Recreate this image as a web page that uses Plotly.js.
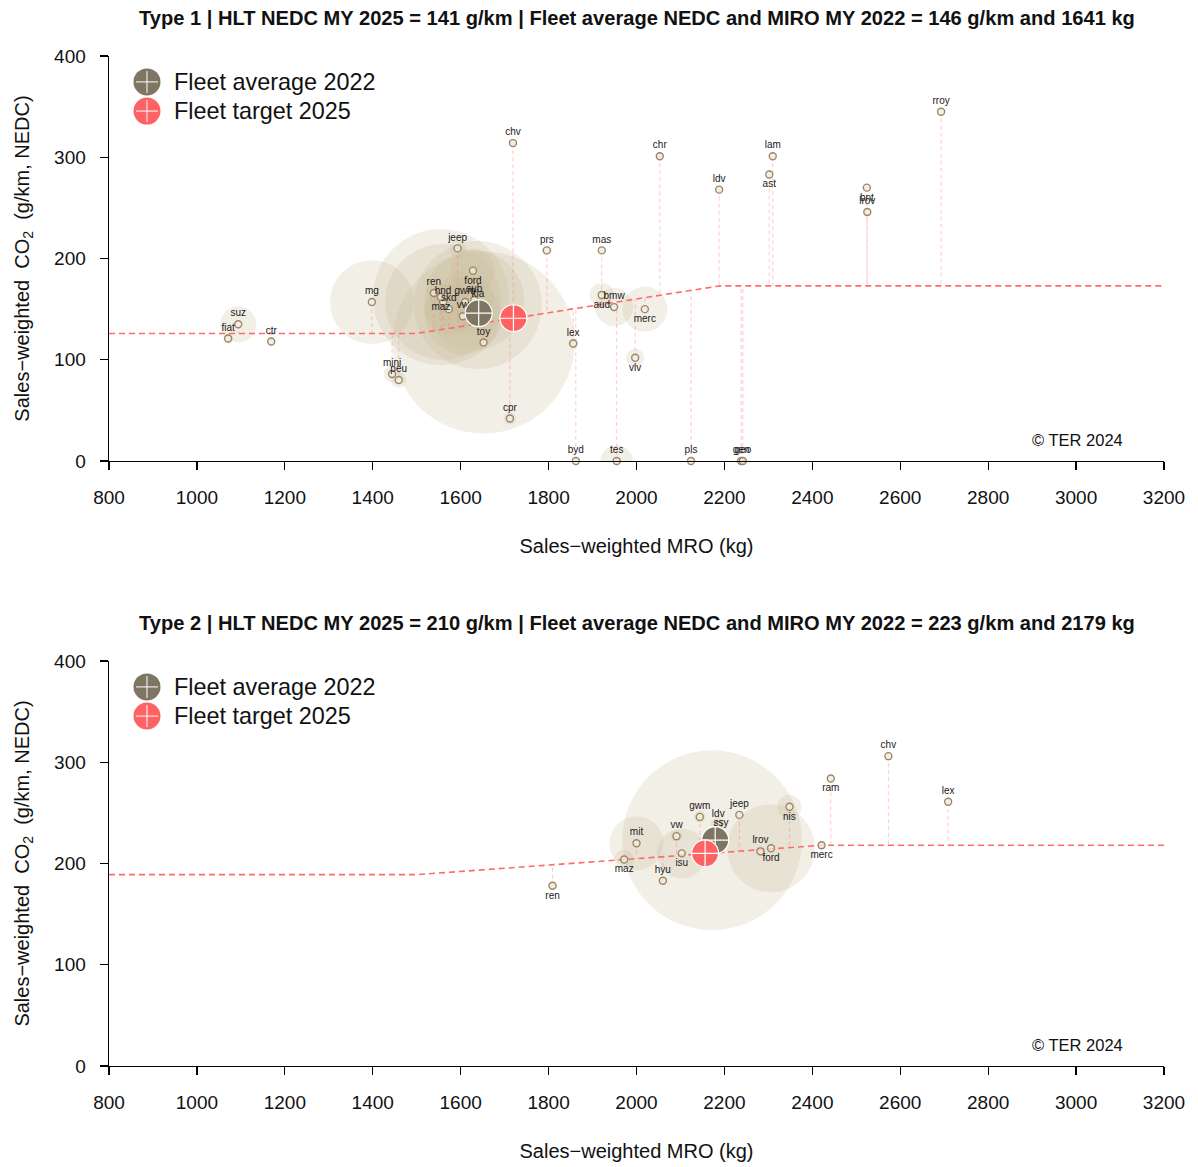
<!DOCTYPE html>
<html>
<head>
<meta charset="utf-8">
<script src="https://cdn.plot.ly/plotly-3.0.1.min.js"></script>
<style>html,body{margin:0;padding:0;background:#fff;}</style>
</head>
<body>
<div id="chart" style="width:1198px;height:1167px;"></div>
<script>
// ---------- DATA ----------
const xTicks = [800, 1000, 1200, 1400, 1600, 1800, 2000, 2200, 2400, 2600, 2800, 3000, 3200];
const yTicks = [0, 100, 200, 300, 400];

const title1 = 'Type 1 | HLT NEDC MY 2025 = 141 g/km | Fleet average NEDC and MIRO MY 2022 = 146 g/km and 1641 kg';
const title2 = 'Type 2 | HLT NEDC MY 2025 = 210 g/km | Fleet average NEDC and MIRO MY 2022 = 223 g/km and 2179 kg';

// Type 1 brands
const brands1 = ['fiat','suz','ctr','mg','mini','peu','ren','hnd','maz','skd','gwm','sub','kia','vw','ford','jeep','toy','cpr','chv','prs','lex','byd','tes','pls','gen','geo','mas','aud','bmw','merc','vlv','chr','ldv','lam','ast','bnt','lrov','rroy'];
const mro1 =    [1071,1094,1169,1398,1444,1459,1539,1560,1555,1573,1610,1631,1639,1605,1628,1593,1652,1712,1719,1796,1856,1862,1955,2124,2238,2242,1921,1921,1949,2019,1997,2053,2188,2310,2302,2524,2525,2693];
const co2_1 =   [121, 135, 118, 157, 86,  80,  166, 157, 162, 150, 157, 159, 154, 143, 188, 210, 117, 42,  314, 208, 116, 0,   0,   0,   0,   0,   208, 164, 152, 150, 102, 301, 268, 301, 283, 270, 246, 345];
const sales1 =  [0.5, 6.7, 0.2, 36,  1.5, 1.2, 1.3, 69,  95,  12.8,18.5,51,  84,  29.6,10,  1.5, 170, 0.8, 0.3, 0.5, 0.5, 0.3, 5.3, 0.3, 0.2, 0.2, 0.2, 3,   7.4, 10.4,1.7, 0.2, 0.3, 0.1, 0.1, 0.1, 0.3, 0.05];
const labelPos1 = ['top','top','top','top','top','top','top','top','bottom','top','top','top','top','top','bottom','top','top','top','top','top','top','top','top','top','top','top','top','bottom','top','bottom','bottom','top','top','top','bottom','bottom','top','top'];

const targetMro1 = [800, 1500, 2190, 3200];
const targetCo2_1 = [126, 126, 173, 173];
const fleetAvg1 = {mro: 1641, co2: 146};
const fleetTarget1 = {mro: 1720, co2: 141};

// Type 2 brands
const brands2 = ['ren','maz','mit','hyu','vw','isu','gwm','toy','ldv','ssy','jeep','lrov','ford','nis','merc','ram','chv','lex'];
const mro2 =    [1809,1972,2000,2060,2091,2103,2144,2172,2186,2192,2234,2282,2306,2348,2421,2442,2573,2709];
const co2_2 =   [178, 204, 220, 183, 227, 210, 246, 223, 238, 229, 248, 212, 215, 256, 218, 284, 306, 261];
const sales2 =  [0.2, 2.0, 15,  0.3, 0.7, 12.8,0.7, 166, 1.3, 0.5, 0.3, 0.5, 39.7,3,   0.3, 0.2, 0.2, 0.1];
const labelPos2 = ['bottom','bottom','top','top','top','bottom','top','top','top','top','top','top','bottom','bottom','bottom','bottom','top','top'];
const labelShow2 = [true,true,true,true,true,true,true,false,true,true,true,true,true,true,true,true,true,true];

const targetMro2 = [800, 1500, 2420, 3200];
const targetCo2_2 = [189, 189, 218, 218];
const fleetAvg2 = {mro: 2179, co2: 223};
const fleetTarget2 = {mro: 2156, co2: 210};

// ---------- STYLE ----------
const FONT = 'Liberation Sans, Arial, Helvetica, sans-serif';
const bubbleColor = 'rgba(200,184,150,0.33)';
const pointFill = 'rgba(245,240,230,0.7)';
const pointLine = '#9a8668';
const avgColor = '#7f7563';
const tgtColor = '#ff6262';
const SIZEREF = 0.010264;

function targetAt(x, tx, ty) {
  for (let i = 0; i < tx.length - 1; i++) {
    if (x >= tx[i] && x <= tx[i+1]) {
      return ty[i] + (ty[i+1] - ty[i]) * (x - tx[i]) / (tx[i+1] - tx[i]);
    }
  }
  return ty[ty.length - 1];
}

function buildTraces(mro, co2, sales, brands, pos, show, tx, ty, avg, tgt, xa, ya) {
  const traces = [];
  traces.push({
    type: 'scatter', mode: 'markers', x: mro, y: co2, xaxis: xa, yaxis: ya,
    marker: {size: sales, sizemode: 'area', sizeref: SIZEREF, color: bubbleColor, line: {width: 0}},
    hoverinfo: 'skip', showlegend: false
  });
  const dx = [], dy = [];
  mro.forEach((m, i) => { dx.push(m, m, null); dy.push(co2[i], targetAt(m, tx, ty), null); });
  traces.push({
    type: 'scatter', mode: 'lines', x: dx, y: dy, xaxis: xa, yaxis: ya,
    line: {color: 'rgba(255,120,120,0.4)', width: 1, dash: '4px,3px'},
    hoverinfo: 'skip', showlegend: false
  });
  traces.push({
    type: 'scatter', mode: 'lines', x: tx, y: ty, xaxis: xa, yaxis: ya,
    line: {color: '#ff6a6a', width: 1.6, dash: '6px,4px'},
    hoverinfo: 'skip', showlegend: false
  });
  const idx = brands.map((b, i) => i).filter(i => !show || show[i]);
  const hid = brands.map((b, i) => i).filter(i => show && !show[i]);
  traces.push({
    type: 'scatter', mode: 'markers+text',
    x: idx.map(i => mro[i]), y: idx.map(i => co2[i]), xaxis: xa, yaxis: ya,
    text: idx.map(i => brands[i]),
    textposition: idx.map(i => pos[i] + ' center'),
    textfont: {family: FONT, size: 10, color: '#1a1a1a'},
    marker: {size: 7, color: pointFill, line: {color: pointLine, width: 1.4}},
    cliponaxis: false, hoverinfo: 'skip', showlegend: false
  });
  if (hid.length) {
    traces.push({
      type: 'scatter', mode: 'markers',
      x: hid.map(i => mro[i]), y: hid.map(i => co2[i]), xaxis: xa, yaxis: ya,
      marker: {size: 7, color: pointFill, line: {color: pointLine, width: 1.4}},
      cliponaxis: false, hoverinfo: 'skip', showlegend: false
    });
  }
  traces.push({
    type: 'scatter', mode: 'markers', x: [avg.mro], y: [avg.co2], xaxis: xa, yaxis: ya,
    marker: {size: 27, symbol: 'circle-cross', color: avgColor, line: {color: '#ffffff', width: 1.2}},
    cliponaxis: false, hoverinfo: 'skip', showlegend: false
  });
  traces.push({
    type: 'scatter', mode: 'markers', x: [tgt.mro], y: [tgt.co2], xaxis: xa, yaxis: ya,
    marker: {size: 27, symbol: 'circle-cross', color: tgtColor, line: {color: '#ffffff', width: 1.2}},
    cliponaxis: false, hoverinfo: 'skip', showlegend: false
  });
  return traces;
}

const data = [].concat(
  buildTraces(mro1, co2_1, sales1, brands1, labelPos1, null, targetMro1, targetCo2_1, fleetAvg1, fleetTarget1, 'x', 'y'),
  buildTraces(mro2, co2_2, sales2, brands2, labelPos2, labelShow2, targetMro2, targetCo2_2, fleetAvg2, fleetTarget2, 'x2', 'y2')
);

function xAxis(anchor) {
  return {
    domain: [0, 1], anchor: anchor, range: [800, 3200],
    tickmode: 'array', tickvals: xTicks, ticktext: xTicks.map(String),
    showline: true, linecolor: '#000', linewidth: 1.4,
    ticks: 'outside', ticklen: 8, tickwidth: 1.3, tickcolor: '#000',
    showgrid: false, zeroline: false, fixedrange: true,
    tickfont: {family: FONT, size: 19, color: '#111'},
    ticklabelstandoff: 11,
    title: {text: 'Sales\u2212weighted MRO (kg)', font: {family: FONT, size: 20, color: '#111'}, standoff: 31}
  };
}
function yAxis(anchor, domain) {
  return {
    domain: domain, anchor: anchor, range: [0, 400],
    tickmode: 'array', tickvals: yTicks, ticktext: yTicks.map(String),
    showline: true, linecolor: '#000', linewidth: 1.4,
    ticks: 'outside', ticklen: 8, tickwidth: 1.3, tickcolor: '#000',
    showgrid: false, zeroline: false, fixedrange: true,
    tickfont: {family: FONT, size: 19, color: '#111'},
    ticklabelstandoff: 10,
    title: {text: 'Sales\u2212weighted  CO<sub>2</sub>  (g/km, NEDC)', font: {family: FONT, size: 20, color: '#111'}, standoff: 19}
  };
}

function legendShapes(xr, yr) {
  const items = [{y: 0.936, c: avgColor}, {y: 0.864, c: tgtColor}];
  const s = [];
  items.forEach(it => {
    s.push({type: 'circle', xref: xr, yref: yr, xsizemode: 'pixel', ysizemode: 'pixel',
      xanchor: 0.036, yanchor: it.y, x0: -13.5, x1: 13.5, y0: -13.5, y1: 13.5,
      fillcolor: it.c, line: {width: 0}});
    s.push({type: 'line', xref: xr, yref: yr, xsizemode: 'pixel', ysizemode: 'pixel',
      xanchor: 0.036, yanchor: it.y, x0: -11, x1: 11, y0: 0, y1: 0, line: {color: '#fff', width: 1}});
    s.push({type: 'line', xref: xr, yref: yr, xsizemode: 'pixel', ysizemode: 'pixel',
      xanchor: 0.036, yanchor: it.y, x0: 0, x1: 0, y0: -11, y1: 11, line: {color: '#fff', width: 1}});
  });
  return s;
}
function legendTexts(xr, yr) {
  return [
    {xref: xr, yref: yr, x: 0.0597, y: 0.936, xanchor: 'left', yanchor: 'middle', showarrow: false,
     text: 'Fleet average 2022', font: {family: FONT, size: 23.4, color: '#111'}},
    {xref: xr, yref: yr, x: 0.0597, y: 0.864, xanchor: 'left', yanchor: 'middle', showarrow: false,
     text: 'Fleet target 2025', font: {family: FONT, size: 23.4, color: '#111'}},
    {xref: xr, yref: yr, x: 0.918, y: 0.052, xanchor: 'center', yanchor: 'middle', showarrow: false,
     text: '\u00a9 TER 2024', font: {family: FONT, size: 16.5, color: '#111'}}
  ];
}

const layout = {
  width: 1198, height: 1167,
  margin: {l: 109, r: 34, t: 56, b: 101},
  paper_bgcolor: '#fff', plot_bgcolor: '#fff',
  showlegend: false, hovermode: false,
  xaxis: xAxis('y'),
  yaxis: yAxis('x', [0.599, 1]),
  xaxis2: xAxis('y2'),
  yaxis2: yAxis('x2', [0, 0.401]),
  shapes: [].concat(legendShapes('x domain', 'y domain'), legendShapes('x2 domain', 'y2 domain')),
  annotations: [
    {xref: 'paper', yref: 'paper', x: 0.5, y: 1.0376, xanchor: 'center', yanchor: 'middle', showarrow: false,
     text: '<b>' + title1 + '</b>', font: {family: FONT, size: 20.1, color: '#111'}},
    {xref: 'paper', yref: 'paper', x: 0.5, y: 0.4386, xanchor: 'center', yanchor: 'middle', showarrow: false,
     text: '<b>' + title2 + '</b>', font: {family: FONT, size: 20.1, color: '#111'}}
  ].concat(legendTexts('x domain', 'y domain'), legendTexts('x2 domain', 'y2 domain'))
};

Plotly.newPlot('chart', data, layout, {displayModeBar: false, staticPlot: true});
</script>
</body>
</html>
